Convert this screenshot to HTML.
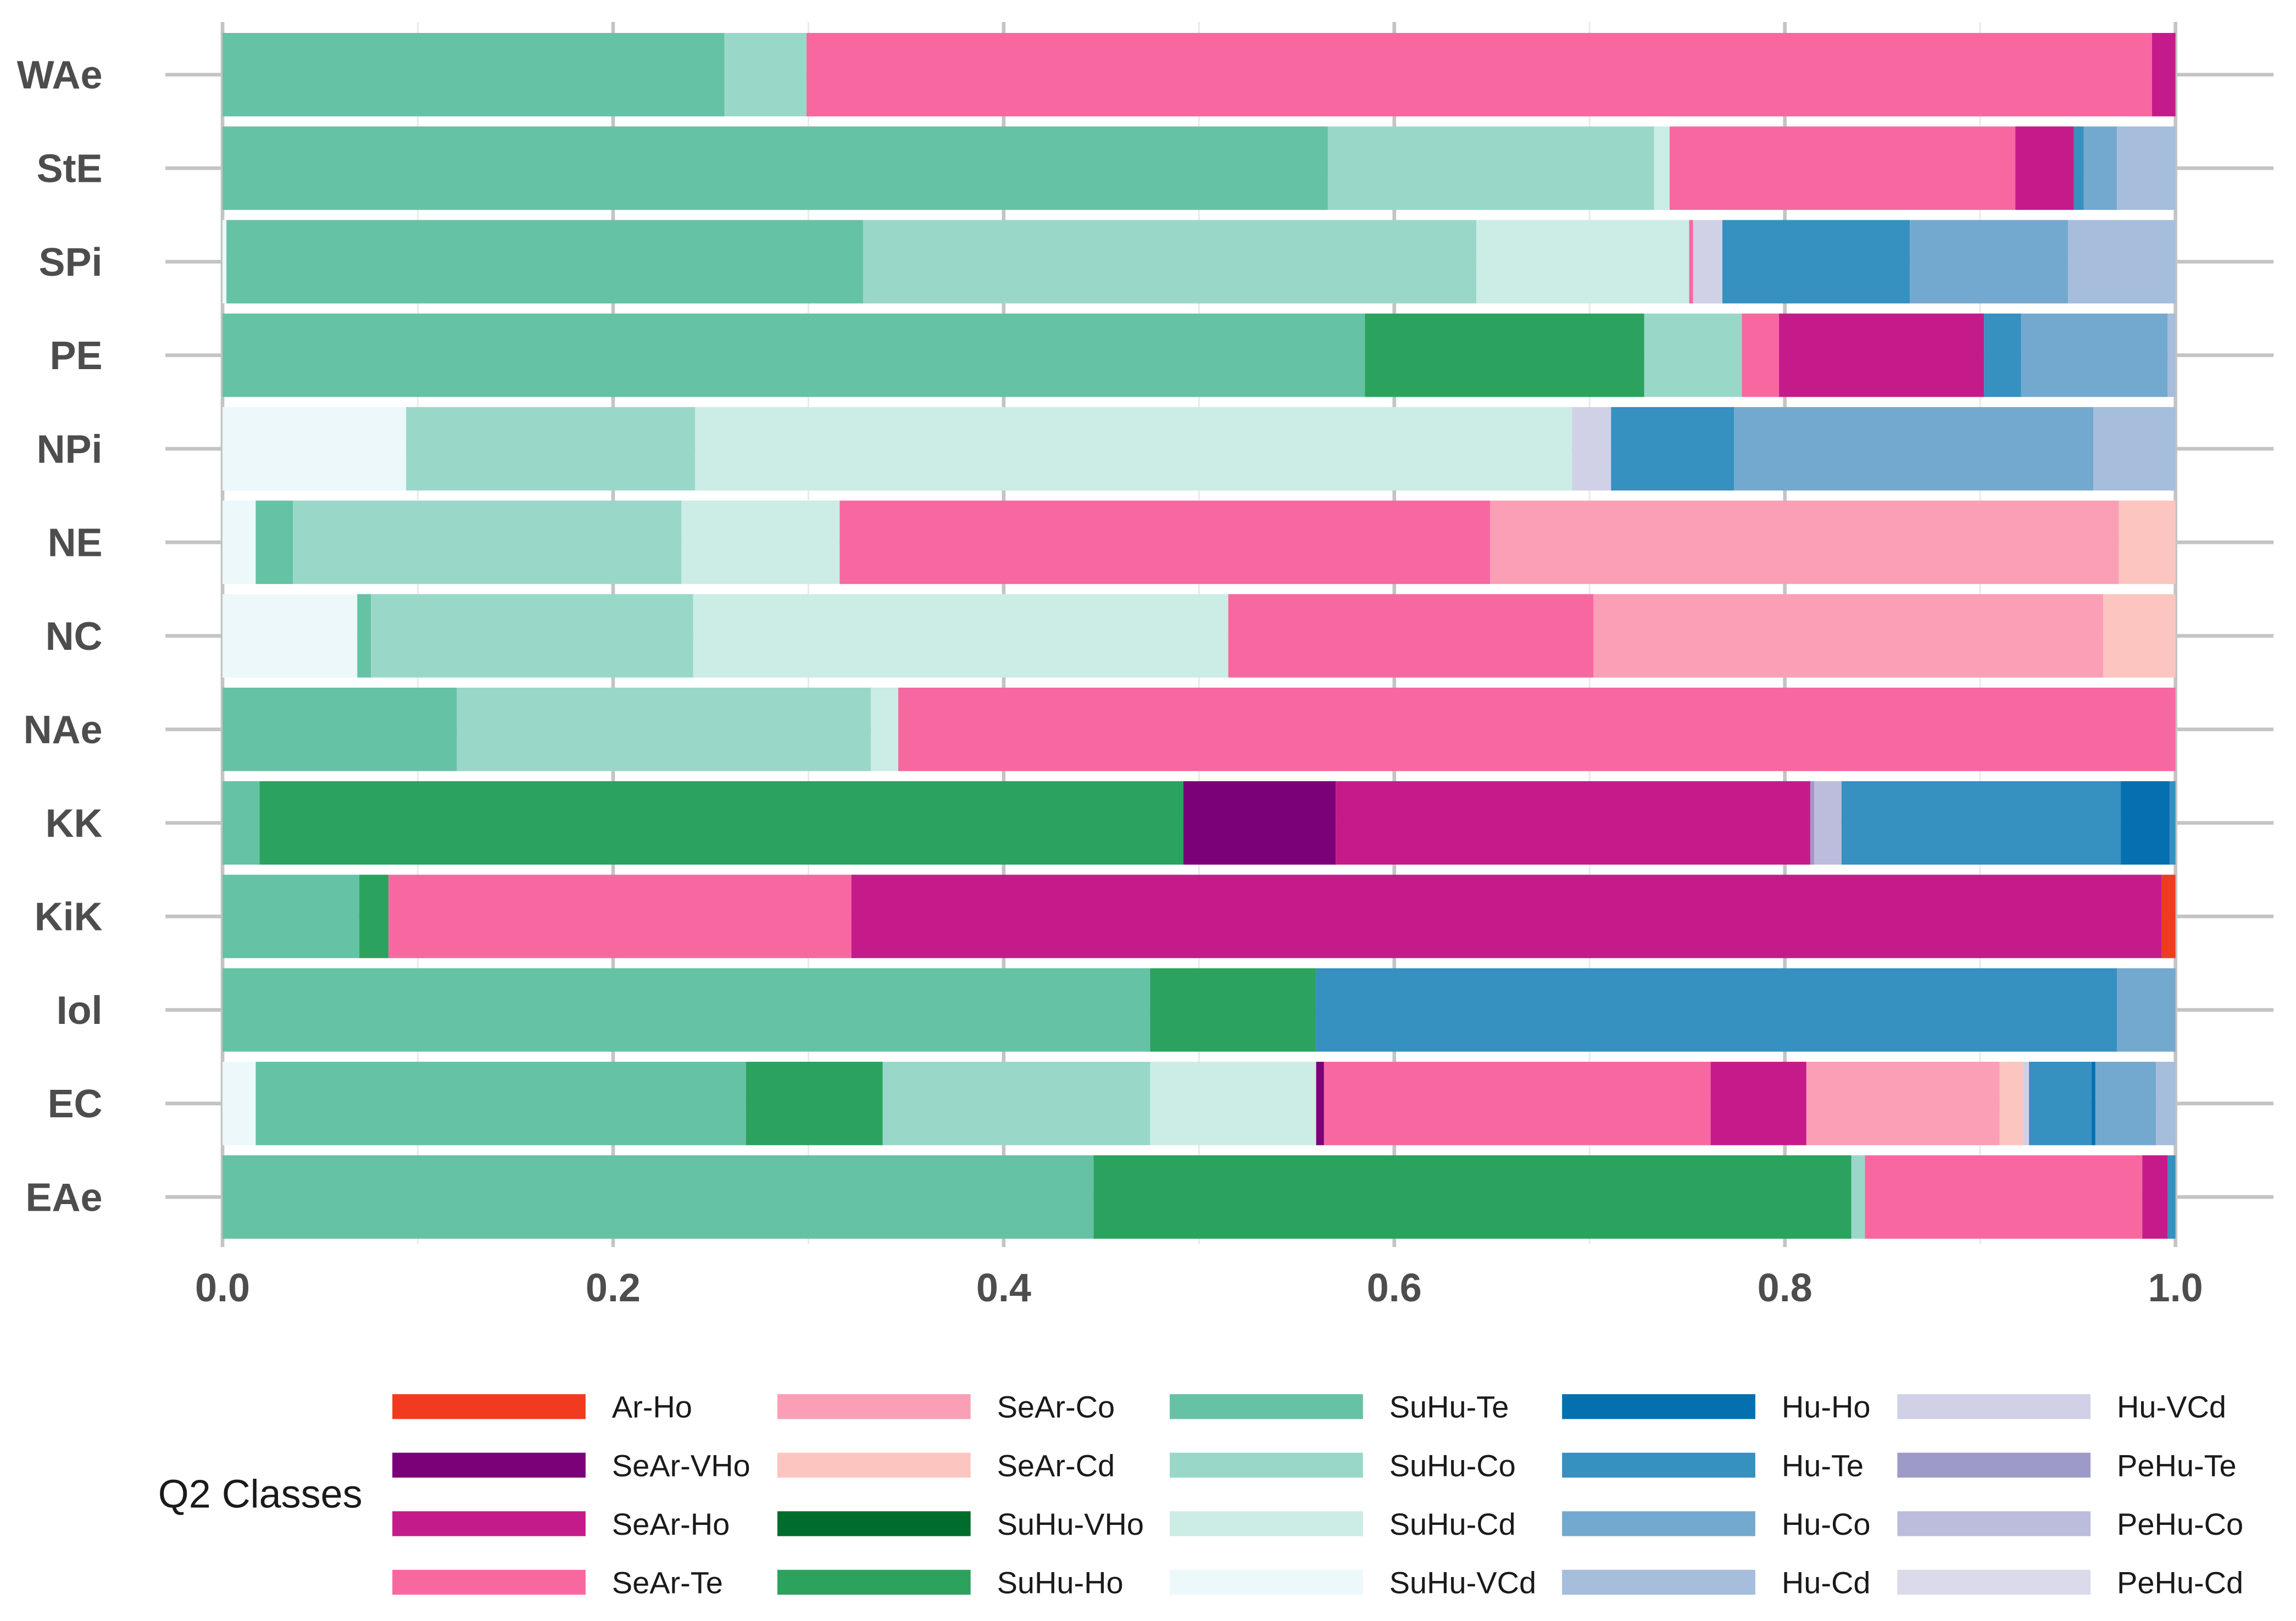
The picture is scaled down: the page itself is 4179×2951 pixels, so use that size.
<!DOCTYPE html>
<html><head><meta charset="utf-8"><style>html,body{margin:0;padding:0;background:#fff;}svg{display:block;}</style></head>
<body>
<svg id="chart" xmlns="http://www.w3.org/2000/svg" width="4179" height="2951" viewBox="0 0 1563 1103.7" font-family="Liberation Sans, sans-serif">
<rect x="0" y="0" width="1563" height="1103.7" fill="#fff"/>
<g transform="scale(0.9966)">
<g id="grid"></g><g id="bars"></g><g id="axes"></g><g id="legend"></g>
</g>
</svg>
<script>
const categories = ["WAe","StE","SPi","PE","NPi","NE","NC","NAe","KK","KiK","Iol","EC","EAe"];
const classNames = ["Ar-Ho","SeAr-VHo","SeAr-Ho","SeAr-Te","SeAr-Co","SeAr-Cd","SuHu-VHo","SuHu-Ho","SuHu-Te","SuHu-Co","SuHu-Cd","SuHu-VCd","Hu-Ho","Hu-Te","Hu-Co","Hu-Cd","Hu-VCd","PeHu-Te","PeHu-Co","PeHu-Cd"];
const classColors = ["#f03b20","#7a0177","#c51b8a","#f768a1","#fa9fb5","#fcc5c0","#006d2c","#2ca25f","#66c2a4","#99d8c9","#ccece6","#edf8fb","#0570b0","#3690c0","#74a9cf","#a6bddb","#d0d1e6","#9e9ac8","#bcbddc","#dadaeb"];
const xTicks = [0,0.2,0.4,0.6,0.8,1.0];
const xTickLabels = ["0.0","0.2","0.4","0.6","0.8","1.0"];
const rowWAe_classes = ["SuHu-Te","SuHu-Co","SeAr-Te","SeAr-Ho"];
const rowWAe_values = [0.257,0.042,0.689,0.012];
const rowStE_classes = ["SuHu-Te","SuHu-Co","SuHu-Cd","SeAr-Te","SeAr-Ho","Hu-Te","Hu-Co","Hu-Cd"];
const rowStE_values = [0.566,0.167,0.008,0.177,0.030,0.005,0.017,0.030];
const rowSPi_classes = ["SuHu-VCd","SuHu-Te","SuHu-Co","SuHu-Cd","SeAr-Te","Hu-VCd","Hu-Te","Hu-Co","Hu-Cd"];
const rowSPi_values = [0.002,0.326,0.314,0.109,0.002,0.015,0.096,0.081,0.055];
const rowPE_classes = ["SuHu-Te","SuHu-Ho","SuHu-Co","SeAr-Te","SeAr-Ho","Hu-Te","Hu-Co","Hu-Cd"];
const rowPE_values = [0.585,0.143,0.050,0.019,0.105,0.019,0.075,0.004];
const rowNPi_classes = ["SuHu-VCd","SuHu-Co","SuHu-Cd","Hu-VCd","Hu-Te","Hu-Co","Hu-Cd"];
const rowNPi_values = [0.094,0.148,0.449,0.020,0.063,0.184,0.042];
const rowNE_classes = ["SuHu-VCd","SuHu-Te","SuHu-Co","SuHu-Cd","SeAr-Te","SeAr-Co","SeAr-Cd"];
const rowNE_values = [0.017,0.019,0.199,0.081,0.333,0.322,0.029];
const rowNC_classes = ["SuHu-VCd","SuHu-Te","SuHu-Co","SuHu-Cd","SeAr-Te","SeAr-Co","SeAr-Cd"];
const rowNC_values = [0.069,0.007,0.165,0.274,0.187,0.261,0.037];
const rowNAe_classes = ["SuHu-Te","SuHu-Co","SuHu-Cd","SeAr-Te"];
const rowNAe_values = [0.120,0.212,0.014,0.654];
const rowKK_classes = ["SuHu-Te","SuHu-Ho","SeAr-VHo","SeAr-Ho","PeHu-Te","PeHu-Co","Hu-Te","Hu-Ho","Hu-Te"];
const rowKK_values = [0.019,0.473,0.078,0.243,0.002,0.014,0.143,0.025,0.003];
const rowKiK_classes = ["SuHu-Te","SuHu-Ho","SeAr-Te","SeAr-Ho","Ar-Ho"];
const rowKiK_values = [0.070,0.015,0.237,0.671,0.007];
const rowIol_classes = ["SuHu-Te","SuHu-Ho","Hu-Te","Hu-Co"];
const rowIol_values = [0.475,0.085,0.410,0.030];
const rowEC_classes = ["SuHu-VCd","SuHu-Te","SuHu-Ho","SuHu-Co","SuHu-Cd","SeAr-VHo","SeAr-Te","SeAr-Ho","SeAr-Co","SeAr-Cd","Hu-VCd","Hu-Te","Hu-Ho","Hu-Co","Hu-Cd"];
const rowEC_values = [0.017,0.251,0.070,0.137,0.085,0.004,0.198,0.049,0.099,0.012,0.003,0.032,0.002,0.031,0.010];
const rowEAe_classes = ["SuHu-Te","SuHu-Ho","SuHu-Co","SeAr-Te","SeAr-Ho","Hu-Te"];
const rowEAe_values = [0.446,0.388,0.007,0.142,0.013,0.004];
const rowClasses = [rowWAe_classes,rowStE_classes,rowSPi_classes,rowPE_classes,rowNPi_classes,rowNE_classes,rowNC_classes,rowNAe_classes,rowKK_classes,rowKiK_classes,rowIol_classes,rowEC_classes,rowEAe_classes];
const rowValues = [rowWAe_values,rowStE_values,rowSPi_values,rowPE_values,rowNPi_values,rowNE_values,rowNC_values,rowNAe_values,rowKK_values,rowKiK_values,rowIol_values,rowEC_values,rowEAe_values];

const NS="http://www.w3.org/2000/svg";
function mk(tag, attrs, parent){const e=document.createElementNS(NS,tag);for(const k in attrs)e.setAttribute(k,attrs[k]);parent.appendChild(e);return e;}
const X0=152, X1=1486;
function xScale(v){return X0+(X1-X0)*v;}
function yScale(i){return 51+i*63.9;}
const BH=57;
const grid=document.getElementById('grid'), bars=document.getElementById('bars'), axes=document.getElementById('axes'), legend=document.getElementById('legend');
function colorOf(c){return classColors[classNames.indexOf(c)];}

for(let i=0;i<5;i++){
  const v=0.1+0.2*i;
  const l=mk('line',{x1:xScale(v),x2:xScale(v),y1:15,y2:850,stroke:'#ebebeb','stroke-width':1.2},grid);
  
  
}
xTicks.forEach((v,i)=>{
  const l=mk('line',{x1:xScale(v),x2:xScale(v),y1:15,y2:852,stroke:'#c4c4c4','stroke-width':2.5},grid);
  
  
  const t=mk('text',{x:xScale(v),y:889,'text-anchor':'middle','font-size':27,'font-weight':'bold',fill:'#4d4d4d'},axes);
  t.textContent=xTickLabels[i];
  
  
});
categories.forEach((c,i)=>{
  const y=yScale(i);
  const l=mk('line',{x1:113,x2:1553,y1:y,y2:y,stroke:'#c4c4c4','stroke-width':2.5},grid);
  
  
  const t=mk('text',{x:70,y:y+9.5,'text-anchor':'end','font-size':27,'font-weight':'bold',fill:'#4d4d4d'},axes);
  t.textContent=c;
  
  
  let cum=0;
  rowValues[i].forEach((v,j)=>{
    const r=mk('rect',{x:xScale(cum),y:y-BH/2,width:Math.max(0,xScale(cum+v)-xScale(cum)),height:BH,fill:colorOf(rowClasses[i][j])},bars);
    
    
    cum+=v;
  });
});

const lt=mk('text',{x:108,y:1030,'font-size':27,fill:'#1a1a1a'},legend);
lt.textContent='Q2 Classes';


const keyX=[268,531,799,1067,1296], txtX=[418,681,949,1217,1446], rowY=[961,1001,1041,1081];
classNames.forEach((n,k)=>{
  const col=Math.floor(k/4), row=k%4;
  const g=mk('g',{},legend);
  
  
  mk('rect',{x:keyX[col],y:rowY[row]-8.5,width:132,height:17,fill:classColors[k]},g);
  const t=mk('text',{x:txtX[col],y:rowY[row]+7.5,'font-size':21,fill:'#1a1a1a'},g);
  t.textContent=n;
});
</script>
</body></html>
